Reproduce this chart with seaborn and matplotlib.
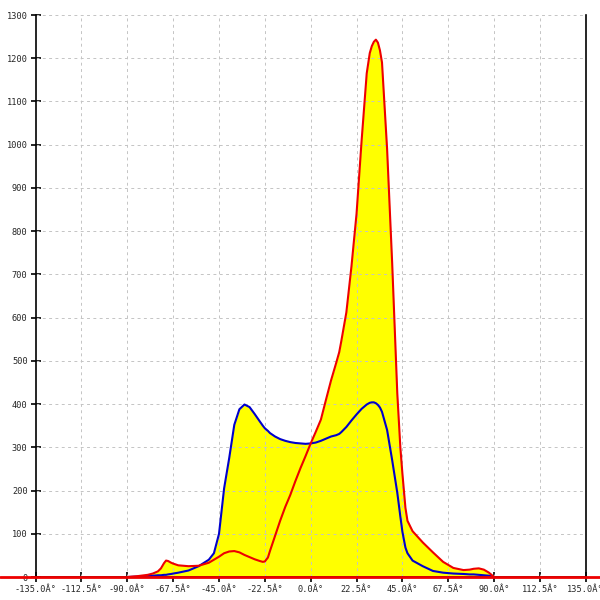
import matplotlib
matplotlib.use("Agg")
import matplotlib.pyplot as plt
import seaborn as sns
import numpy as np
import pandas as pd

# angle grid (degrees) and the two curves
angle = [-90, -85, -80, -77.5, -75, -73.5, -72, -71, -70, -68.5, -67.5, -65,
         -60, -55, -50, -47.5, -45, -42.5, -40, -37.5, -35, -32.5, -30,
         -27.5, -25, -23.5, -22.5, -21, -20, -17.5, -15, -12.5, -10, -7.5,
         -5, -2.5, 0, 2.5, 5, 7.5, 10, 12.5, 14, 15, 17.5, 20, 22.5, 25,
         27.5, 29, 30, 31, 32, 33, 34, 35, 37.5, 40, 42.5, 44, 45, 46.5,
         47.5, 50, 55, 60, 65, 70, 75, 78, 80, 82.5, 85, 87.5, 90]
red_vals = [0, 2, 5, 8, 13, 20, 32, 38, 37, 33, 31, 27,
            25, 26, 33, 40, 47, 55, 59, 60, 57, 51, 46,
            41, 37, 35, 36, 45, 60, 95, 130, 162, 190, 222,
            252, 280, 309, 336, 364, 410, 455, 495, 520, 545, 612, 718, 840, 1010,
            1165, 1212, 1228, 1238, 1243, 1236, 1218, 1190, 990, 725, 425, 300, 240, 160,
            130, 106, 80, 57, 35, 21, 16, 17, 19, 20, 17, 10, 0]
blue_vals = [0, 1, 2, 3, 4, 4, 5, 5, 6, 7, 8, 10,
             15, 25, 40, 55, 100, 205, 275, 352, 388, 399, 393,
             377, 360, 350, 344, 338, 333, 325, 319, 315, 312, 310,
             309, 308, 309, 311, 315, 320, 325, 328, 331, 335, 347, 362, 376, 389,
             399, 403, 404, 404, 402, 398, 392, 382, 340, 270, 195, 140, 105, 68,
             55, 38, 25, 14, 10, 8, 7, 6, 6, 5, 4, 3, 0]

xticks = [-135 + 22.5 * i for i in range(13)]
yticks = list(range(0, 1400, 100))
xlabels = [f"{v:.1f}Â°" for v in xticks]
ylabels = [str(v) for v in yticks]

df = pd.DataFrame({"angle": angle, "red": red_vals, "blue": blue_vals})

sns.set_style("white")
plt.rcParams['font.family'] = ['DejaVu Sans Mono', 'DejaVu Sans']

fig = plt.figure(figsize=(6, 6), dpi=100)
ax = fig.add_axes([0, 0, 1, 1])

# yellow area under whichever curve is higher
ax.fill_between(df["angle"], 0, np.maximum(df["red"], df["blue"]),
                color="#ffff00", linewidth=0, zorder=1)

# dashed grid inside the plot box
ax.vlines(xticks[1:-1], 0, 1300, colors="#c4c4c4", linestyles=(0, (3, 3.5)),
          linewidth=0.7, zorder=1.5)
ax.hlines(yticks[1:], -135, 135, colors="#c4c4c4", linestyles=(0, (3, 3.5)),
          linewidth=0.7, zorder=1.5)

sns.lineplot(data=df, x="angle", y="blue", color="#0000cc", linewidth=1.5,
             sort=False, estimator=None, ax=ax, zorder=4,
             solid_joinstyle="round")
sns.lineplot(data=df, x="angle", y="red", color="#ee0000", linewidth=1.5,
             sort=False, estimator=None, ax=ax, zorder=5,
             solid_joinstyle="round")
ax.axhline(0, color="#ee0000", linewidth=2, zorder=6)

ax.set_xlim(-152.5, 142.0)
ax.set_ylim(-53.2, 1334.7)

ax.spines['left'].set_position(('data', -135))
ax.spines['left'].set_bounds(0, 1300)
ax.spines['right'].set_position(('data', 135))
ax.spines['right'].set_bounds(0, 1300)
ax.spines['bottom'].set_position(('data', 0))
ax.spines['bottom'].set_bounds(-135, 135)
ax.spines['top'].set_visible(False)
for s in ['left', 'right', 'bottom']:
    ax.spines[s].set_color('black')
    ax.spines[s].set_linewidth(1.2)

ax.set_xticks(xticks)
ax.set_xticklabels(xlabels)
ax.set_yticks(yticks)
ax.set_yticklabels(ylabels)
ax.xaxis.set_ticks_position('bottom')
ax.yaxis.set_ticks_position('left')
ax.tick_params(axis='both', direction='inout', length=6.5, width=1.2,
               color='black', labelsize=6.2, pad=2.5)
ax.set_xlabel("")
ax.set_ylabel("")

fig.savefig("out.png", dpi=100)
